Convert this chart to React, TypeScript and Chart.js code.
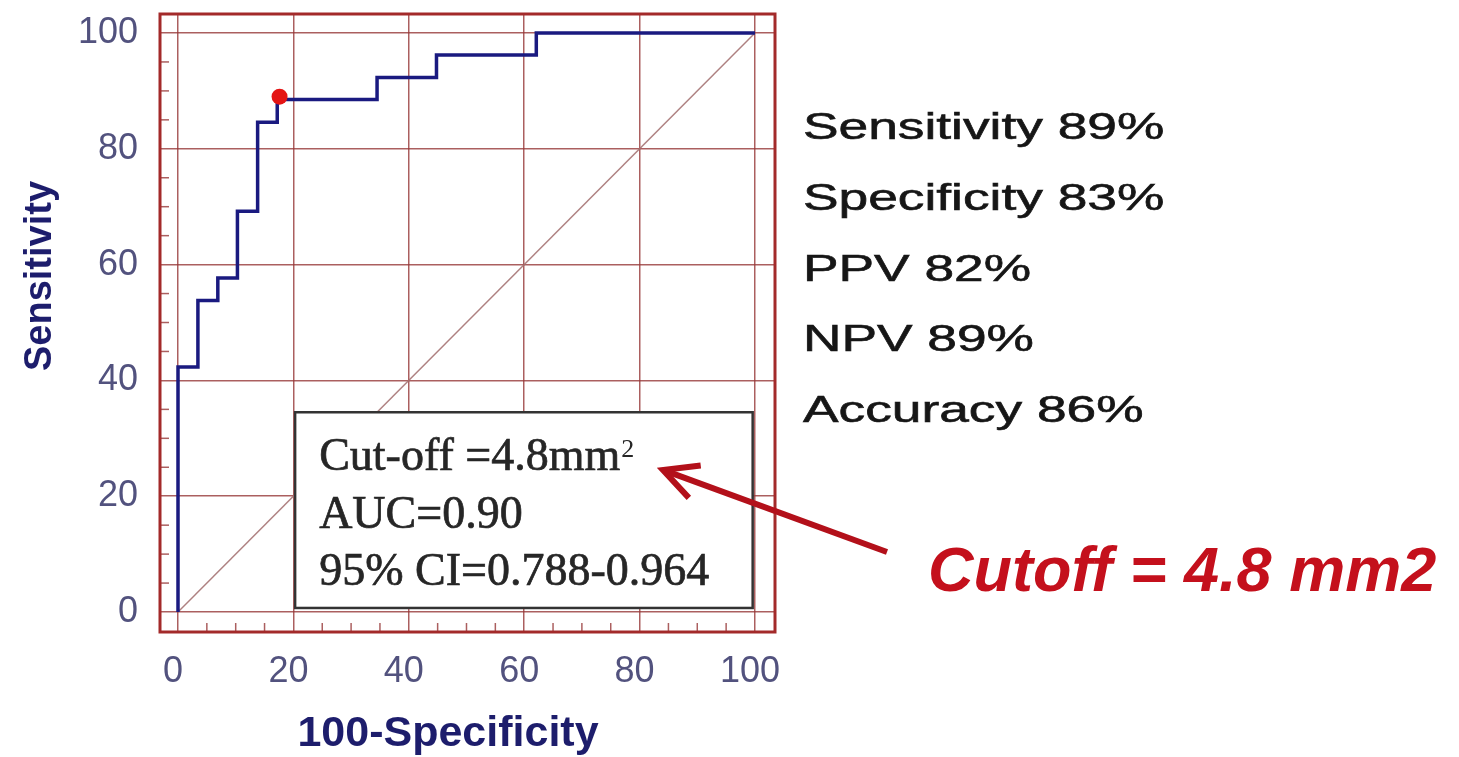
import React, { useEffect, useRef } from "react";
import { Chart, registerables } from "chart.js";

Chart.register(...registerables);

// ---- data ----
const xTickValues = [0, 20, 40, 60, 80, 100];
const yTickValues = [0, 20, 40, 60, 80, 100];
const rocFalsePositive = [0, 3.45, 6.9, 10.3, 13.8, 17.2, 34.5, 44.8, 62.1, 100];
const rocSensitivity = [0, 42.3, 53.8, 57.7, 69.2, 84.6, 88.5, 92.3, 96.2, 100];
const diagonalX = [0, 100];
const diagonalY = [0, 100];
const cutoffPointX = [17.6];
const cutoffPointY = [89];
const minorTickValues = [5, 10, 15, 25, 30, 35, 45, 50, 55, 65, 70, 75, 85, 90, 95];
const statsLabels = ["Sensitivity 89%", "Specificity 83%", "PPV 82%", "NPV 89%", "Accuracy 86%"];
const boxLines = ["Cut-off =4.8mm", "AUC=0.90", "95% CI=0.788-0.964"];
const boxSuperscript = "2";
const cutoffCallout = "Cutoff = 4.8 mm2";
const xTitle = "100-Specificity";
const yTitle = "Sensitivity";

const GRID = "rgba(150, 55, 55, 0.8)";
const FRAME = "#a32a2a";

const overlayPlugin = {
  id: "overlay",
  beforeDraw(chart: any) {
    const { ctx, width, height } = chart;
    ctx.save();
    ctx.fillStyle = "#ffffff";
    ctx.fillRect(0, 0, width, height);
    ctx.restore();
  },
  beforeDatasetsDraw(chart: any) {
    const { ctx, chartArea, scales } = chart;
    ctx.save();
    ctx.strokeStyle = GRID;
    ctx.lineWidth = 1.5;
    for (const v of minorTickValues) {
      const x = scales.x.getPixelForValue(v);
      ctx.beginPath();
      ctx.moveTo(x, chartArea.bottom);
      ctx.lineTo(x, chartArea.bottom - 9);
      ctx.stroke();
      const y = scales.y.getPixelForValue(v);
      ctx.beginPath();
      ctx.moveTo(chartArea.left, y);
      ctx.lineTo(chartArea.left + 9, y);
      ctx.stroke();
    }
    ctx.restore();
  },
  afterDatasetsDraw(chart: any) {
    const { ctx, scales } = chart;
    // annotation box
    const x1 = scales.x.getPixelForValue(20.3);
    const x2 = scales.x.getPixelForValue(99.6);
    const y1 = scales.y.getPixelForValue(34.5);
    const y2 = scales.y.getPixelForValue(0.7);
    ctx.save();
    ctx.fillStyle = "#ffffff";
    ctx.fillRect(x1, y1, x2 - x1, y2 - y1);
    ctx.strokeStyle = "#333333";
    ctx.lineWidth = 2.5;
    ctx.strokeRect(x1, y1, x2 - x1, y2 - y1);
    ctx.fillStyle = "#262626";
    ctx.strokeStyle = "#262626";
    ctx.lineWidth = 0.7;
    ctx.textBaseline = "alphabetic";
    ctx.textAlign = "left";
    ctx.font = '46px "Liberation Serif"';
    const tx = x1 + 24;
    const offs = [58, 116, 173];
    boxLines.forEach((line, i) => {
      ctx.fillText(line, tx, y1 + offs[i]);
      ctx.strokeText(line, tx, y1 + offs[i]);
    });
    const w0 = ctx.measureText(boxLines[0]).width;
    ctx.font = '26px "Liberation Serif"';
    ctx.fillText(boxSuperscript, tx + w0 + 1, y1 + 45);
    ctx.restore();
  },
  afterDraw(chart: any) {
    const { ctx, chartArea } = chart;
    ctx.save();
    // frame
    ctx.strokeStyle = FRAME;
    ctx.lineWidth = 3;
    ctx.strokeRect(chartArea.left, chartArea.top, chartArea.right - chartArea.left, chartArea.bottom - chartArea.top);

    // axis titles
    ctx.fillStyle = "#1d1d6c";
    ctx.font = 'bold 43px "Liberation Sans"';
    ctx.textAlign = "center";
    ctx.textBaseline = "alphabetic";
    ctx.fillText(xTitle, 448, 746);
    ctx.save();
    ctx.translate(51, 276);
    ctx.rotate(-Math.PI / 2);
    ctx.font = 'bold 38px "Liberation Sans"';
    ctx.fillText(yTitle, 0, 0);
    ctx.restore();

    // stats list
    ctx.fillStyle = "#161616";
    ctx.strokeStyle = "#161616";
    ctx.lineWidth = 0.6;
    ctx.font = '37px "Liberation Sans"';
    ctx.textAlign = "left";
    const baselines = [139, 210, 281, 351, 422];
    statsLabels.forEach((s, i) => {
      ctx.save();
      ctx.translate(803, baselines[i]);
      ctx.scale(1.44, 1);
      ctx.fillText(s, 0, 0);
      ctx.strokeText(s, 0, 0);
      ctx.restore();
    });

    // arrow
    const tip = { x: 663, y: 470 };
    const tail = { x: 887, y: 552 };
    const ang = Math.atan2(tail.y - tip.y, tail.x - tip.x);
    const wl = 38;
    const spread = (27 * Math.PI) / 180;
    ctx.strokeStyle = "#b3101a";
    ctx.lineWidth = 6;
    ctx.lineCap = "butt";
    ctx.lineJoin = "miter";
    ctx.beginPath();
    ctx.moveTo(tail.x, tail.y);
    ctx.lineTo(tip.x + 2 * Math.cos(ang), tip.y + 2 * Math.sin(ang));
    ctx.stroke();
    ctx.beginPath();
    ctx.moveTo(tip.x + wl * Math.cos(ang - spread), tip.y + wl * Math.sin(ang - spread));
    ctx.lineTo(tip.x, tip.y);
    ctx.lineTo(tip.x + wl * Math.cos(ang + spread), tip.y + wl * Math.sin(ang + spread));
    ctx.stroke();

    // callout
    ctx.fillStyle = "#c4101c";
    ctx.font = 'italic bold 63px "Liberation Sans"';
    ctx.textAlign = "left";
    ctx.fillText(cutoffCallout, 928, 591);
    ctx.restore();
  },
};

export default function App() {
  const canvasRef = useRef<HTMLCanvasElement | null>(null);

  useEffect(() => {
    document.body.style.margin = "0";
    const canvas = canvasRef.current;
    if (!canvas) return;
    const chart = new Chart(canvas, {
      type: "line",
      data: {
        datasets: [
          {
            label: "Cut-off point",
            data: cutoffPointX.map((x, i) => ({ x, y: cutoffPointY[i] })),
            showLine: false,
            pointRadius: 8,
            pointBackgroundColor: "#e41414",
            pointBorderColor: "#e41414",
            pointBorderWidth: 0,
            order: 0,
          },
          {
            label: "ROC",
            data: rocFalsePositive.map((x, i) => ({ x, y: rocSensitivity[i] })),
            stepped: "after",
            borderColor: "#1a1a80",
            borderWidth: 3.5,
            pointRadius: 0,
            fill: false,
            order: 1,
          },
          {
            label: "Reference",
            data: diagonalX.map((x, i) => ({ x, y: diagonalY[i] })),
            borderColor: "rgba(165, 115, 115, 0.9)",
            borderWidth: 1.5,
            pointRadius: 0,
            fill: false,
            order: 2,
          },
        ],
      } as any,
      options: {
        responsive: false,
        animation: false,
        devicePixelRatio: 1,
        events: [],
        layout: { padding: { top: 14, right: 684, bottom: 0, left: 0 } },
        plugins: { legend: { display: false }, tooltip: { enabled: false } },
        scales: {
          x: {
            type: "linear",
            min: -3.12,
            max: 103.47,
            afterBuildTicks: (axis: any) => {
              axis.ticks = xTickValues.map((v) => ({ value: v }));
            },
            afterFit: (axis: any) => {
              axis.height = 125;
              axis.paddingLeft = 0;
              axis.paddingRight = 0;
            },
            grid: { color: GRID, lineWidth: 1.5, drawTicks: false },
            border: { display: false },
            ticks: {
              autoSkip: false,
              maxRotation: 0,
              padding: 18,
              labelOffset: -5,
              color: "#52527e",
              font: { family: "Liberation Sans", size: 36 },
            },
          },
          y: {
            type: "linear",
            min: -3.45,
            max: 103.28,
            afterBuildTicks: (axis: any) => {
              axis.ticks = yTickValues.map((v) => ({ value: v }));
            },
            afterFit: (axis: any) => {
              axis.width = 160;
              axis.paddingTop = 0;
              axis.paddingBottom = 0;
            },
            grid: { color: GRID, lineWidth: 1.5, drawTicks: false },
            border: { display: false },
            ticks: {
              autoSkip: false,
              padding: 22,
              color: "#52527e",
              font: { family: "Liberation Sans", size: 36 },
            },
          },
        },
      } as any,
      plugins: [overlayPlugin],
    });
    return () => chart.destroy();
  }, []);

  return (
    <div style={{ position: "absolute", left: 0, top: 0, width: 1459, height: 757 }}>
      <canvas ref={canvasRef} width={1459} height={757} style={{ display: "block" }} />
    </div>
  );
}
